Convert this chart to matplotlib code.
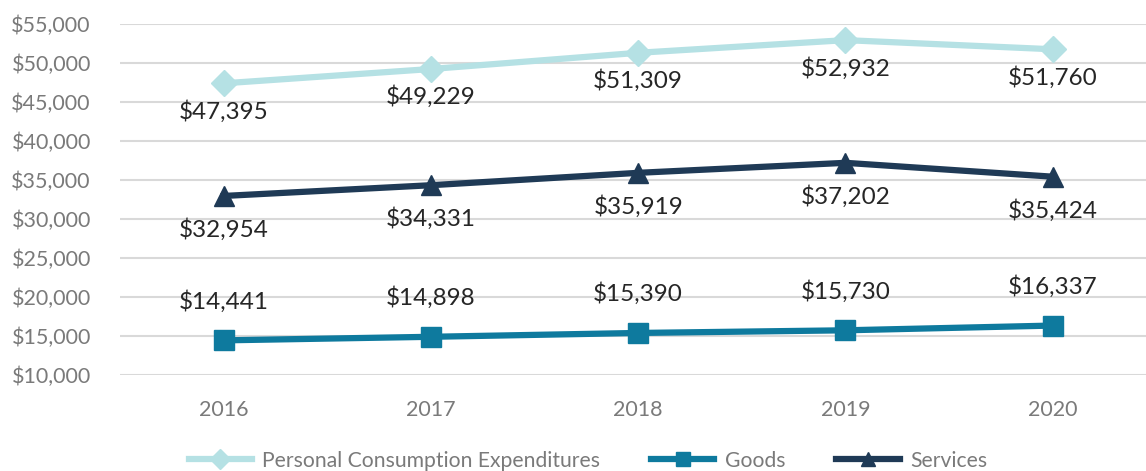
import matplotlib.pyplot as plt
from matplotlib.ticker import FuncFormatter

# --- data ---
years = ["2016", "2017", "2018", "2019", "2020"]
pce = [47395, 49229, 51309, 52932, 51760]
goods = [14441, 14898, 15390, 15730, 16337]
services = [32954, 34331, 35919, 37202, 35424]

plt.rcParams['font.family'] = ['Lato', 'DejaVu Sans']

fig = plt.figure(figsize=(11.46, 4.71), dpi=100)
ax = fig.add_axes([120 / 1146, 1 - 375 / 471, 1 - 120 / 1146, (375 - 24) / 471])

x = list(range(len(years)))
c_pce, c_goods, c_serv = "#b5e1e4", "#0e7a9e", "#1f3a56"

ax.plot(x, pce, color=c_pce, lw=4.5, marker="D", ms=13, label="Personal Consumption Expenditures")
ax.plot(x, goods, color=c_goods, lw=4.5, marker="s", ms=14, label="Goods")
ax.plot(x, services, color=c_serv, lw=4.5, marker="^", ms=14, label="Services")

def money(v):
    return "${:,.0f}".format(v)

# data labels: pce and services below, goods above
for xi, v in zip(x, pce):
    ax.annotate(money(v), (xi, v), xytext=(0, -12), textcoords="offset points",
                ha="center", va="top", fontsize=17.5, color="#262626")
for xi, v in zip(x, services):
    ax.annotate(money(v), (xi, v), xytext=(0, -16), textcoords="offset points",
                ha="center", va="top", fontsize=17.5, color="#262626")
for xi, v in zip(x, goods):
    ax.annotate(money(v), (xi, v), xytext=(0, 20), textcoords="offset points",
                ha="center", va="bottom", fontsize=17.5, color="#262626")

ax.set_ylim(10000, 55000)
ax.set_yticks(range(10000, 55001, 5000))
ax.yaxis.set_major_formatter(FuncFormatter(lambda v, p: money(v)))
ax.set_xlim(-0.5, 4.45)
ax.set_xticks(x)
ax.set_xticklabels(years)
ax.grid(axis="y", color="#d9d9d9", lw=1.5)
ax.set_axisbelow(True)
for s in ax.spines.values():
    s.set_visible(False)
ax.tick_params(length=0, labelsize=15.5, colors="#7a7a7a")
ax.tick_params(axis="y", pad=21)
ax.tick_params(axis="x", pad=18)

fig.legend(loc="center", ncol=3, frameon=False, fontsize=15.2,
           bbox_to_anchor=(0.513, 0.022), handlelength=3, columnspacing=2.4,
           handletextpad=0.5, markerscale=0.75, labelcolor="#7a7a7a")

fig.savefig("out.png", dpi=100)
